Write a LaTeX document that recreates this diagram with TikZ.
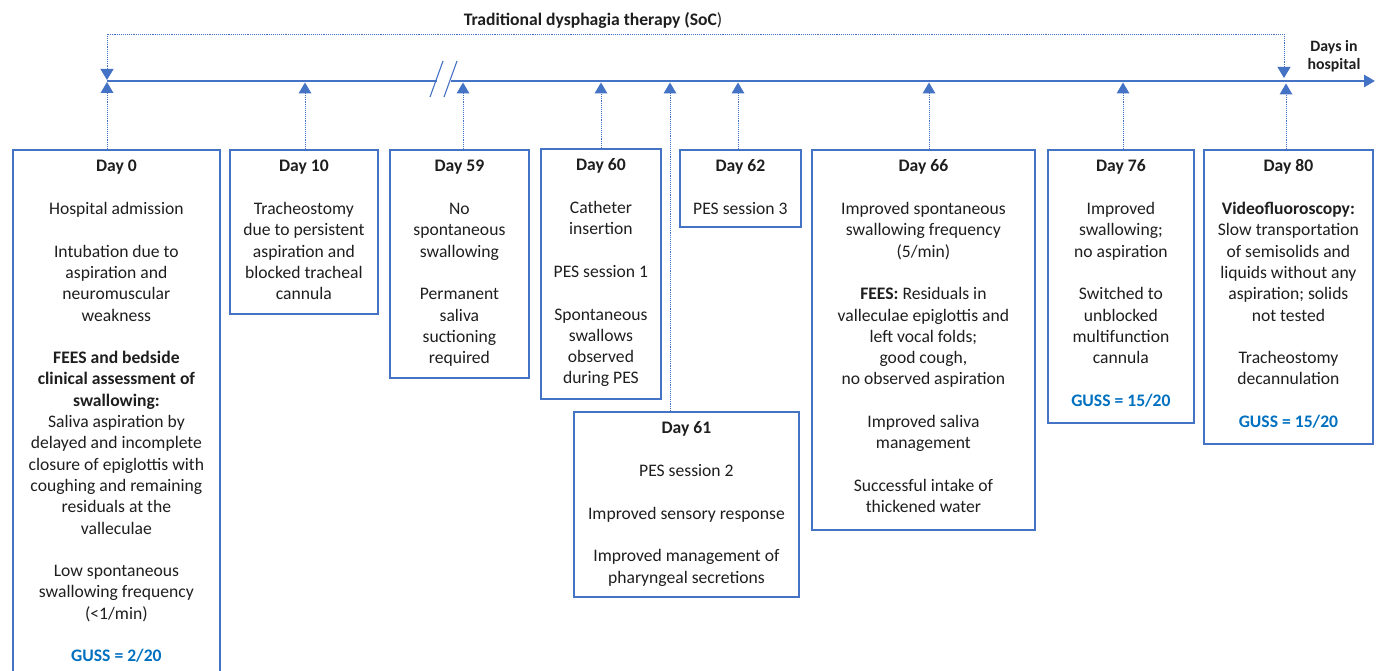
\documentclass[tikz,border=0pt]{standalone}
\usepackage{fontspec}
\setmainfont{Carlito}
\usetikzlibrary{arrows.meta}
\definecolor{boxblue}{RGB}{68,114,196}
\definecolor{gussblue}{RGB}{0,112,192}
\definecolor{txt}{RGB}{30,30,30}
\newcommand\boxtext[3]{\parbox[c][#2][t]{#1}{\centering\fontsize{17.6}{21.3}\selectfont\color{txt}\rule{0pt}{22pt}#3}}
\newcommand\blank{\\[21.3pt]}
\newcommand\guss[1]{\textcolor{gussblue}{\textbf{#1}}}
\tikzset{
  box/.style={draw=boxblue, line width=1.8pt, inner sep=0pt, anchor=north west},
  conn/.style={draw=boxblue, densely dotted, line width=0.9pt},
  tip/.style={-{Triangle[width=13pt,length=11pt,line width=0pt,sep=0pt]}},
  axis/.style={draw=boxblue, line width=2.8pt},
  brk/.style={draw=boxblue, line width=1.1pt},
}
\begin{document}
\begin{tikzpicture}[x=1pt,y=-1pt]
\useasboundingbox (0,0) rectangle (1378,671);
% title and axis label
\node[font=\fontsize{17.6}{20}\selectfont, text=txt] (title) at (593,20) {\textbf{Traditional dysphagia therapy (SoC})};
\node[font=\fontsize{15.8}{18}\selectfont\bfseries, text=txt, align=center] (days) at (1334,56) {Days in\\hospital};
% axis
\coordinate (a0) at (107,81);
\coordinate (b1) at (437,81);
\coordinate (b2) at (451,81);
\coordinate (aend) at (1375,81);
\draw[axis] (a0) -- (b1);
\draw[axis, -{Triangle[width=12pt,length=11pt]}] (b2) -- (aend);
\coordinate (s1a) at (430,97); \coordinate (s1b) at (443,61);
\coordinate (s2a) at (444,97); \coordinate (s2b) at (457,61);
\draw[brk] (s1a) -- (s1b);
\draw[brk] (s2a) -- (s2b);
% SoC bracket
\coordinate (soc1) at (107,80);
\coordinate (soc2) at (1284,78);
\draw[conn, {Triangle[width=13pt,length=11pt]}-{Triangle[width=13pt,length=11pt]}] (soc1) -- (107,34) -- (1284,34) -- (soc2);
% ticks on axis
\coordinate (t0) at (107,82);
\coordinate (t10) at (305,82.5);
\coordinate (t59) at (463,82.5);
\coordinate (t60) at (601,82.5);
\coordinate (t61) at (670,82.5);
\coordinate (t62) at (738,82.5);
\coordinate (t66) at (929,82.5);
\coordinate (t76) at (1123,82.5);
\coordinate (t80) at (1286,83.5);
% boxes
\node[box] (d0) at (12,149) {\boxtext{207pt}{545pt}{\textbf{Day 0}\blank
Hospital admission\blank
Intubation due to\\aspiration and\\neuromuscular\\weakness\blank
\textbf{FEES and bedside}\\\textbf{clinical assessment of}\\\textbf{swallowing:}\\
Saliva aspiration by\\delayed and incomplete\\closure of epiglottis with\\coughing and remaining\\residuals at the\\valleculae\blank
Low spontaneous\\swallowing frequency\\(<1/min)\blank
\guss{GUSS = 2/20}}};
\node[box] (d10) at (229,149) {\boxtext{148pt}{164pt}{\textbf{Day 10}\blank
Tracheostomy\\due to persistent\\aspiration and\\blocked tracheal\\cannula}};
\node[box] (d59) at (389,149) {\boxtext{139pt}{228pt}{\textbf{Day 59}\blank
No\\spontaneous\\swallowing\blank
Permanent\\saliva\\suctioning\\required}};
\node[box] (d60) at (540,148) {\boxtext{120pt}{250pt}{\textbf{Day 60}\blank
Catheter\\insertion\blank
PES session 1\blank
Spontaneous\\swallows\\observed\\during PES}};
\node[box] (d62) at (679,149) {\boxtext{121pt}{77pt}{\textbf{Day 62}\blank
PES session 3}};
\node[box] (d61) at (573,411) {\boxtext{225pt}{185pt}{\textbf{Day 61}\blank
PES session 2\blank
Improved sensory response\blank
Improved management of\\pharyngeal secretions}};
\node[box] (d66) at (811,149) {\boxtext{223pt}{380pt}{\textbf{Day 66}\blank
Improved spontaneous\\swallowing frequency\\(5/min)\blank
\textbf{FEES:} Residuals in\\valleculae epiglottis and\\left vocal folds;\\good cough,\\no observed aspiration\blank
Improved saliva\\management\blank
Successful intake of\\thickened water}};
\node[box] (d76) at (1047,149) {\boxtext{146pt}{273pt}{\textbf{Day 76}\blank
Improved\\swallowing;\\no aspiration\blank
Switched to\\unblocked\\multifunction\\cannula\blank
\guss{GUSS = 15/20}}};
\node[box] (d80) at (1203,149) {\boxtext{169pt}{294pt}{\textbf{Day 80}\blank
\textbf{Videofluoroscopy:}\\Slow transportation\\of semisolids and\\liquids without any\\aspiration; solids\\not tested\blank
Tracheostomy\\decannulation\blank
\guss{GUSS = 15/20}}};
% connectors
\draw[conn, tip] (d0.north -| t0) -- (t0);
\draw[conn, tip] (d10.north -| t10) -- (t10);
\draw[conn, tip] (d59.north -| t59) -- (t59);
\draw[conn, tip] (d60.north -| t60) -- (t60);
\draw[conn, tip] (d61.north -| t61) -- (t61);
\draw[conn, tip] (d62.north -| t62) -- (t62);
\draw[conn, tip] (d66.north -| t66) -- (t66);
\draw[conn, tip] (d76.north -| t76) -- (t76);
\draw[conn, tip] (d80.north -| t80) -- (t80);
\end{tikzpicture}
\end{document}
